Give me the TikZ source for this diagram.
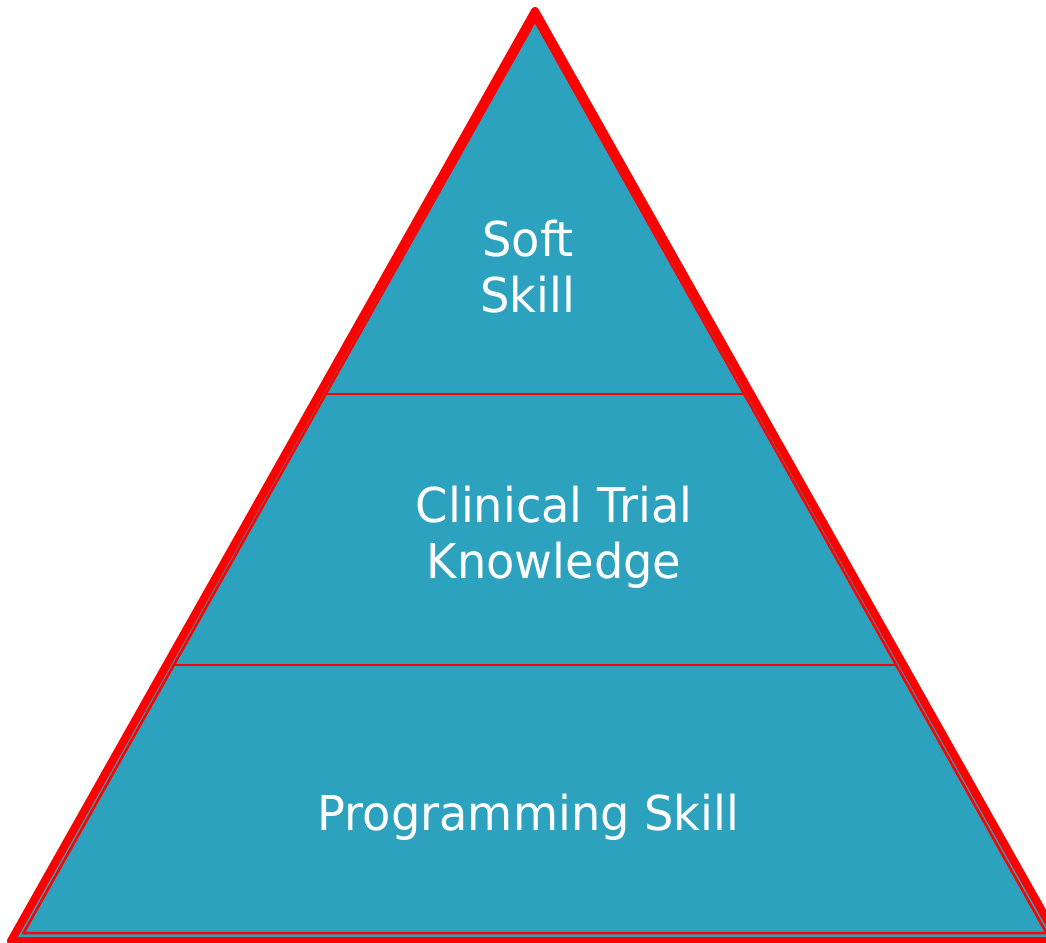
\documentclass[tikz,border=0pt]{standalone}
\usepackage{fontspec}
\setmainfont[FakeStretch=0.965]{DejaVu Sans}
\usetikzlibrary{calc}
\definecolor{pyramidteal}{HTML}{2DA2BF}

\begin{document}
\begin{tikzpicture}[x=0.5pt, y=-0.5pt]
    % Define styles
    \tikzstyle{outer_edge} = [draw=red, line width=4pt, line join=round, fill=pyramidteal]
    \tikzstyle{inner_edge} = [draw=red, line width=1.25pt, line join=miter]
    \tikzstyle{divider} = [draw=red, line width=1pt]
    \tikzstyle{level_text} = [text=white, font=\fontsize{24}{28}\selectfont, align=center, inner sep=0pt]

    \useasboundingbox (0,0) rectangle (1046,943);

    % OUTER TRIANGLE
    \coordinate (outer_top) at (535,11);
    \coordinate (outer_left) at (11,941);
    \coordinate (outer_right) at (1059,941);
    \draw[outer_edge] (outer_top) -- (outer_left) -- (outer_right) -- cycle;

    % INNER TRIANGLE
    \coordinate (inner_top) at (535,21);
    \coordinate (inner_left) at (23.5,933);
    \coordinate (inner_right) at (1046.5,933);
    \draw[inner_edge] (inner_top) -- (inner_left) -- (inner_right) -- cycle;

    % LEVEL DIVIDERS
    \coordinate (div1_left) at ($(inner_left)!0.591!(inner_top)$);
    \coordinate (div1_right) at ($(inner_right)!0.591!(inner_top)$);
    \coordinate (div2_left) at ($(inner_left)!0.294!(inner_top)$);
    \coordinate (div2_right) at ($(inner_right)!0.294!(inner_top)$);
    \draw[divider] (div1_left) -- (div1_right);
    \draw[divider] (div2_left) -- (div2_right);

    % LEVELS
    \node (soft_skill) [level_text] at (528,267) {Soft\\Skill};
    \node (trial_knowledge) [level_text] at (554,537) {Clinical Trial\\Knowledge};
    \node (programming_skill) [level_text] at (528.5,817) {Programming Skill};

\end{tikzpicture}
\end{document}
